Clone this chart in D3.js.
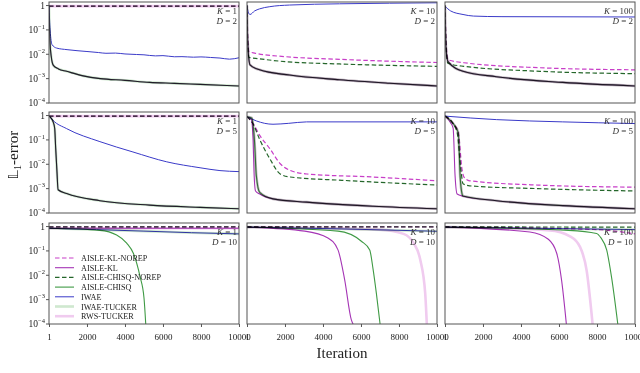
<!DOCTYPE html>
<html>
<head>
<meta charset="utf-8">
<script src="https://cdn.jsdelivr.net/npm/d3@7"></script>
<style>
  body { margin: 0; background: #fff; }
  svg { display: block; }
  text { font-family: "Liberation Serif", "DejaVu Serif", serif; fill: #222; }
</style>
</head>
<body>
<svg id="chart" width="640" height="373"></svg>
<script>
// series, in legend order
var seriesNames = ["AISLE-KL-NOREP", "AISLE-KL", "AISLE-CHISQ-NOREP", "AISLE-CHISQ", "IWAE", "IWAE-TUCKER", "RWS-TUCKER"];
var seriesColors = ["#c83ec8", "#a535b5", "#24662a", "#3f9a44", "#3a3ac8", "#cfe8cf", "#f0cbef"];
var seriesDash = ["4.5,2.5", null, "4.5,2.5", null, null, null, null];
var seriesWidth = [1.2, 1.1, 1.2, 1.1, 1, 2.6, 2.6];

var kValues = [1, 10, 100];
var dValues = [2, 5, 10];
var xTicks = [1, 2000, 4000, 6000, 8000, 10000];
var yTicks = [1e-4, 1e-3, 1e-2, 1e-1, 1];
var yTickExp = ["−4", "−3", "−2", "−1", ""];

// each curve: [iteration, L1-error]
var flatTop = [[1, 0.95], [10001, 0.95]];

// K=1, D=2
var lowK1D2 = [[1, 1], [20, 0.2], [50, 0.035], [120, 0.008], [230, 0.0035], [500, 0.0025], [930, 0.002], [1800, 0.0013], [2700, 0.001], [4000, 0.00085], [5300, 0.0007], [6600, 0.00064], [7950, 0.00058], [10001, 0.0005]];
var iwaeK1D2 = [[1, 1], [60, 0.1], [160, 0.025], [400, 0.018], [950, 0.0155], [2000, 0.013], [2600, 0.0118], [3000, 0.011], [3500, 0.0112], [4000, 0.0103], [4600, 0.0098], [5000, 0.0095], [5600, 0.0086], [6000, 0.0088], [6600, 0.0079], [7000, 0.008], [7600, 0.0076], [8000, 0.0078], [8500, 0.0074], [9000, 0.007], [9500, 0.0063], [10001, 0.0072]];
var panelK1D2 = [flatTop, lowK1D2, flatTop, lowK1D2, iwaeK1D2, lowK1D2, flatTop];

// K=10, D=2
var lowK10D2 = [[1, 1], [40, 0.03], [160, 0.0037], [660, 0.0023], [2240, 0.0014], [4870, 0.0009], [7500, 0.00065], [10001, 0.0005]];
var klNorepK10D2 = [[1, 1], [40, 0.05], [100, 0.013], [600, 0.0105], [2000, 0.008], [4870, 0.0062], [7500, 0.0052], [10001, 0.0046]];
var chisqNorepK10D2 = [[1, 1], [40, 0.03], [100, 0.0075], [600, 0.0066], [2000, 0.005], [4870, 0.004], [7500, 0.0035], [10001, 0.0032]];
var iwaeK10D2 = [[1, 1], [80, 0.5], [160, 0.43], [400, 0.6], [660, 0.73], [1200, 0.9], [2240, 1.05], [4870, 1.18], [7500, 1.25], [10001, 1.3]];
var panelK10D2 = [klNorepK10D2, lowK10D2, chisqNorepK10D2, lowK10D2, iwaeK10D2, lowK10D2, lowK10D2];

// K=100, D=2
var lowK100D2 = [[1, 1], [50, 0.02], [160, 0.005], [950, 0.002], [2700, 0.0012], [6200, 0.0007], [10001, 0.0005]];
var klNorepK100D2 = [[1, 1], [60, 0.03], [150, 0.006], [1000, 0.0045], [5000, 0.0028], [10001, 0.0023]];
var chisqNorepK100D2 = [[1, 1], [60, 0.02], [150, 0.0043], [1000, 0.0032], [5000, 0.002], [10001, 0.0016]];
var iwaeK100D2 = [[1, 0.95], [300, 0.6], [950, 0.43], [1500, 0.37], [3000, 0.35], [10001, 0.34]];
var panelK100D2 = [klNorepK100D2, lowK100D2, chisqNorepK100D2, lowK100D2, iwaeK100D2, lowK100D2, lowK100D2];

// K=1, D=5
var lowK1D5 = [[1, 0.95], [100, 0.8], [200, 0.6], [300, 0.3], [350, 0.05], [420, 0.005], [480, 0.0009], [930, 0.00063], [2680, 0.00032], [5300, 0.00021], [7950, 0.00017], [10001, 0.00015]];
var iwaeK1D5 = [[1, 1], [210, 0.64], [930, 0.29], [2680, 0.085], [4420, 0.032], [6200, 0.0126], [7950, 0.0072], [9000, 0.0055], [10001, 0.005]];
var panelK1D5 = [flatTop, lowK1D5, flatTop, lowK1D5, iwaeK1D5, lowK1D5, flatTop];

// K=10, D=5
var klK10D5 = [[1, 0.9], [230, 0.7], [320, 0.1], [370, 0.005], [450, 0.0008], [670, 0.0006], [1370, 0.00038], [3140, 0.00028], [6650, 0.00019], [10001, 0.00015]];
var chisqK10D5 = [[1, 0.9], [250, 0.8], [400, 0.08], [490, 0.0035], [670, 0.0007], [1370, 0.00038], [3140, 0.00028], [6650, 0.00019], [10001, 0.00015]];
var klNorepK10D5 = [[1, 0.9], [320, 0.47], [680, 0.15], [1200, 0.044], [1750, 0.0105], [2280, 0.0056], [3150, 0.004], [6650, 0.003], [10001, 0.0021]];
var chisqNorepK10D5 = [[1, 0.9], [320, 0.45], [680, 0.1], [1200, 0.017], [1750, 0.004], [2280, 0.003], [5000, 0.0022], [10001, 0.0014]];
var iwaeK10D5 = [[1, 0.9], [500, 0.6], [1370, 0.44], [2200, 0.48], [3140, 0.55], [10001, 0.55]];
var panelK10D5 = [klNorepK10D5, klK10D5, chisqNorepK10D5, chisqK10D5, iwaeK10D5, chisqK10D5, chisqK10D5];

// K=100, D=5
var klK100D5 = [[1, 0.95], [300, 0.5], [430, 0.3], [530, 0.0035], [640, 0.0006], [950, 0.00049], [2720, 0.00032], [6200, 0.0002], [10001, 0.00015]];
var chisqK100D5 = [[1, 0.95], [400, 0.5], [700, 0.2], [800, 0.003], [900, 0.0006], [950, 0.0005], [2720, 0.00032], [6200, 0.0002], [10001, 0.00015]];
var klNorepK100D5 = [[1, 0.95], [400, 0.5], [700, 0.2], [900, 0.006], [1000, 0.003], [1300, 0.0021], [4900, 0.0014], [10001, 0.00115]];
var chisqNorepK100D5 = [[1, 0.95], [400, 0.5], [640, 0.2], [850, 0.005], [950, 0.0016], [1300, 0.0013], [4900, 0.001], [10001, 0.0008]];
var iwaeK100D5 = [[1, 0.95], [2720, 0.68], [6200, 0.55], [10001, 0.47]];
var panelK100D5 = [klNorepK100D5, klK100D5, chisqNorepK100D5, chisqK100D5, iwaeK100D5, chisqK100D5, chisqK100D5];

// K=1, D=10
var chisqK1D10 = [[1, 0.85], [2680, 0.7], [3560, 0.45], [4090, 0.21], [4440, 0.08], [4790, 0.009], [5000, 0.0012], [5100, 0.00008]];
var iwaeK1D10 = [[1, 0.85], [2500, 0.75], [5000, 0.65], [7500, 0.56], [10001, 0.5]];
var topK1D10 = [[1, 0.97], [10001, 0.97]];
var rwsK1D10 = [[1, 0.85], [10001, 0.85]];
var panelK1D10 = [topK1D10, rwsK1D10, topK1D10, chisqK1D10, iwaeK1D10, iwaeK1D10, rwsK1D10];

// K=10, D=10
var klK10D10 = [[1, 0.95], [3040, 0.65], [4260, 0.34], [4790, 0.11], [5140, 0.0066], [5490, 0.00015], [5650, 0.00008]];
var chisqK10D10 = [[1, 0.95], [4790, 0.65], [6020, 0.25], [6460, 0.11], [6640, 0.017], [6810, 0.0018], [7020, 0.00008]];
var rwsK10D10 = [[1, 0.95], [7000, 0.75], [8240, 0.5], [8770, 0.21], [9120, 0.043], [9380, 0.0018], [9470, 0.00008]];
var iwaeK10D10 = [[1, 0.95], [5000, 0.8], [10001, 0.64]];
var topK10D10 = [[1, 0.97], [10001, 0.97]];
var panelK10D10 = [topK10D10, klK10D10, topK10D10, chisqK10D10, iwaeK10D10, iwaeK10D10, rwsK10D10];

// K=100, D=10
var klK100D10 = [[1, 0.95], [4470, 0.6], [5440, 0.3], [5880, 0.08], [6140, 0.006], [6400, 0.00008]];
var rwsK100D10 = [[1, 0.95], [5500, 0.7], [6580, 0.4], [7100, 0.15], [7460, 0.015], [7780, 0.00008]];
var chisqK100D10 = [[1, 0.95], [6500, 0.7], [7980, 0.52], [8200, 0.35], [8510, 0.11], [8770, 0.008], [9110, 0.00008]];
var klNorepK100D10 = [[1, 0.97], [8000, 0.75], [10001, 0.5]];
var chisqNorepK100D10 = [[1, 0.97], [10001, 0.95]];
var iwaeK100D10 = [[1, 0.95], [10001, 0.75]];
var panelK100D10 = [klNorepK100D10, klK100D10, chisqNorepK100D10, chisqK100D10, iwaeK100D10, iwaeK100D10, rwsK100D10];

var panels = [
  [panelK1D2, panelK10D2, panelK100D2],
  [panelK1D5, panelK10D5, panelK100D5],
  [panelK1D10, panelK10D10, panelK100D10]
];

var colLeft = [49, 247, 445];
var rowTop = [2, 112, 223];
var pw = 190, ph = 101;

var svg = d3.select("#chart");

// draw order: light tucker lines first
var drawOrder = [6, 5, 0, 2, 1, 3, 4];

panels.forEach(function(row, ri) {
  row.forEach(function(panel, ci) {
    var x0 = colLeft[ci], y0 = rowTop[ri];
    var x = d3.scaleLinear().domain([1, 10001]).range([x0, x0 + pw]);
    var y = d3.scaleLog().domain([1e-4, 1.4]).range([y0 + ph, y0]);
    var clipId = "clip" + ri + ci;
    svg.append("clipPath").attr("id", clipId)
      .append("rect").attr("x", x0).attr("y", y0).attr("width", pw).attr("height", ph);

    var line = d3.line()
      .x(function(d) { return x(d[0]); })
      .y(function(d) { return y(d[1]); })
      .curve(d3.curveMonotoneX);

    var g = svg.append("g").attr("clip-path", "url(#" + clipId + ")");
    drawOrder.forEach(function(si) {
      g.append("path")
        .attr("d", line(panel[si]))
        .attr("fill", "none")
        .attr("stroke", seriesColors[si])
        .attr("stroke-width", seriesWidth[si])
        .attr("stroke-dasharray", seriesDash[si])
        .style("mix-blend-mode", "multiply");
    });

    // frame
    svg.append("rect")
      .attr("x", x0).attr("y", y0).attr("width", pw).attr("height", ph)
      .attr("fill", "none").attr("stroke", "#555").attr("stroke-width", 1);

    // K / D labels
    var lab = svg.append("g").attr("font-size", 9).attr("text-anchor", "end");
    var t1 = lab.append("text").attr("x", x0 + pw - 2).attr("y", y0 + 12).style("fill", "#333");
    t1.append("tspan").attr("font-style", "italic").text("K");
    t1.append("tspan").text(" = " + kValues[ci]);
    var t2 = lab.append("text").attr("x", x0 + pw - 2).attr("y", y0 + 21.5).style("fill", "#333");
    t2.append("tspan").attr("font-style", "italic").text("D");
    t2.append("tspan").text(" = " + dValues[ri]);

    // y axis on first column
    if (ci === 0) {
      yTicks.forEach(function(v, i) {
        var yy = y(v);
        svg.append("line").attr("x1", x0 - 3).attr("x2", x0).attr("y1", yy).attr("y2", yy)
          .attr("stroke", "#555");
        var tx = svg.append("text").attr("text-anchor", "end").attr("font-size", 9.5)
          .attr("x", x0 - 4).attr("y", yy + 3.3);
        if (yTickExp[i] === "") {
          tx.text("1");
        } else {
          tx.append("tspan").text("10");
          tx.append("tspan").attr("font-size", 6.5).attr("dy", -4.5).text(yTickExp[i]);
        }
      });
    }

    // x axis on bottom row
    if (ri === 2) {
      var ax = svg.append("g").attr("transform", "translate(0," + (y0 + ph) + ")")
        .call(d3.axisBottom(x).tickValues(xTicks).tickSize(3).tickSizeOuter(0).tickFormat(d3.format("d")));
      ax.select(".domain").remove();
      ax.selectAll("line").attr("stroke", "#555");
      ax.selectAll("text").attr("font-size", 9).attr("dy", "1.1em")
        .style("font-family", "'Liberation Serif', serif").style("fill", "#222");
    }

    // legend in bottom-left panel
    if (ri === 2 && ci === 0) {
      var lg = svg.append("g");
      seriesNames.forEach(function(name, si) {
        var ly = 258 + si * 9.7;
        lg.append("line").attr("x1", 55).attr("x2", 74).attr("y1", ly).attr("y2", ly)
          .attr("stroke", seriesColors[si])
          .attr("stroke-width", seriesWidth[si])
          .attr("stroke-dasharray", seriesDash[si]);
        lg.append("text").attr("x", 81).attr("y", ly + 3).attr("font-size", 8.2).text(name);
      });
    }
  });
});

// axis titles
svg.append("text").attr("x", 342).attr("y", 358).attr("text-anchor", "middle")
  .attr("font-size", 15).text("Iteration");

var yl = svg.append("text").attr("transform", "translate(18,155) rotate(-90)")
  .attr("text-anchor", "middle").attr("font-size", 15);
yl.append("tspan").style("font-family", "'DejaVu Sans', sans-serif").attr("font-size", 14).text("𝕃");
yl.append("tspan").attr("font-size", 10).attr("dy", 3).text("1");
yl.append("tspan").attr("dy", -3).text("-error");
</script>
</body>
</html>
